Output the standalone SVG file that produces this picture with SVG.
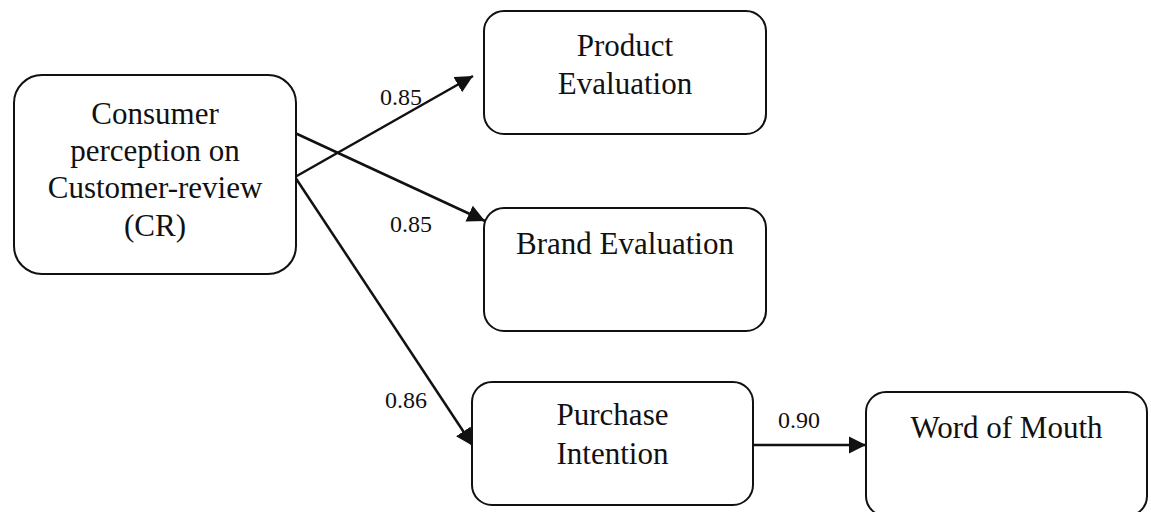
<svg xmlns="http://www.w3.org/2000/svg" width="1151" height="512" viewBox="0 0 1151 512">
<style>
.box{fill:#fff;stroke:#111;stroke-width:2}
.t{font-family:"Liberation Serif","Times New Roman",serif;font-size:31px;fill:#111;text-anchor:middle}
.l{font-family:"Liberation Serif","Times New Roman",serif;font-size:24px;fill:#111}
.c{stroke:#111;stroke-width:2.5;fill:none;marker-end:url(#ah)}
</style>
<defs>
<marker id="ah" viewBox="0 0 10 10" refX="10" refY="5" markerWidth="7" markerHeight="7" markerUnits="strokeWidth" orient="auto">
<path d="M0,0 L10,5 L0,10 z" fill="#111"/>
</marker>
</defs>
<rect width="1151" height="512" fill="#fff"/>
<g id="connectors">
<line class="c" x1="295" y1="177" x2="473" y2="76"/>
<line class="c" x1="295" y1="133" x2="485" y2="221"/>
<line class="c" x1="295" y1="177" x2="473" y2="446"/>
<line class="c" x1="753" y1="445" x2="866" y2="445"/>
<text class="l" x="380" y="105">0.85</text>
<text class="l" x="390" y="232">0.85</text>
<text class="l" x="385" y="408">0.86</text>
<text class="l" x="778" y="428">0.90</text>
</g>
<g id="cr">
<rect class="box" x="14" y="75" width="282" height="199" rx="28"/>
<text class="t" x="155" y="124">Consumer</text>
<text class="t" x="155" y="161">perception on</text>
<text class="t" x="155" y="198">Customer-review</text>
<text class="t" x="155" y="236">(CR)</text>
</g>
<g id="product">
<rect class="box" x="484" y="11" width="282" height="123" rx="20"/>
<text class="t" x="625" y="56">Product</text>
<text class="t" x="625" y="94">Evaluation</text>
</g>
<g id="brand">
<rect class="box" x="484" y="208" width="282" height="123" rx="20"/>
<text class="t" x="625" y="254">Brand Evaluation</text>
</g>
<g id="purchase">
<rect class="box" x="472" y="382" width="281" height="123" rx="20"/>
<text class="t" x="612.5" y="425">Purchase</text>
<text class="t" x="612.5" y="464">Intention</text>
</g>
<g id="wom">
<rect class="box" x="866" y="392" width="281" height="124" rx="20"/>
<text class="t" x="1006.5" y="438">Word of Mouth</text>
</g>
</svg>
